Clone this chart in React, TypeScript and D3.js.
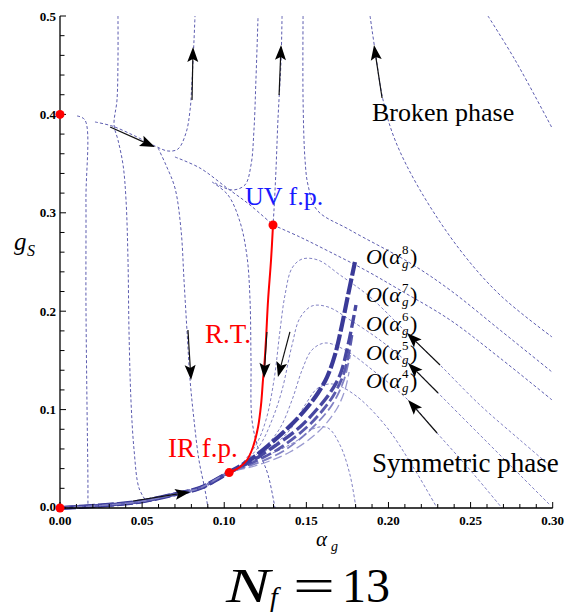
import React from 'react';
import * as d3 from 'd3';

type P = [number, number];

// ---------- ticks ----------
const xTicks = [0, 0.05, 0.1, 0.15, 0.2, 0.25, 0.3];
const xTickLabels = ['0.00', '0.05', '0.10', '0.15', '0.20', '0.25', '0.30'];
const yTicks = [0, 0.1, 0.2, 0.3, 0.4, 0.5];
const yTickLabels = ['0.0', '0.1', '0.2', '0.3', '0.4', '0.5'];

// ---------- fixed points ----------
const fixedPoints: P[] = [[0, 0], [0, 0.4], [0.103, 0.036], [0.1297, 0.2876]];

// ---------- RG flow trajectories (thin dotted) ----------
const flowA: P[] = [[0.0104, 0.3984], [0.0152, 0.3943], [0.0158, 0.313], [0.0158, 0.2114], [0.0164, 0.1098], [0.017, 0.0285], [0.017, 0]];
const flowT1: P[] = [[0.0213, 0.3923], [0.0317, 0.3882], [0.0457, 0.378], [0.0578, 0.3679], [0.0658, 0.3628], [0.0718, 0.3648], [0.0767, 0.3811], [0.0792, 0.4045], [0.0804, 0.435], [0.0816, 0.4756], [0.0822, 0.5]];
const flowB: P[] = [[0.0353, 0.5], [0.0353, 0.4553], [0.0347, 0.4146], [0.0329, 0.3892], [0.0353, 0.374], [0.0384, 0.3486], [0.0402, 0.313], [0.0414, 0.252], [0.042, 0.1809], [0.0432, 0.1098], [0.0451, 0.0589], [0.0481, 0.0203], [0.0524, 0.0071]];
const flowT2: P[] = [[0.0597, 0.3659], [0.0645, 0.3486], [0.07, 0.3252], [0.0737, 0.2825], [0.0755, 0.2317], [0.0773, 0.1809], [0.0792, 0.1301], [0.0816, 0.0894], [0.0846, 0.0488], [0.0883, 0.0183], [0.0901, 0]];
const flowT3: P[] = [[0.07, 0.3567], [0.0852, 0.3455], [0.1017, 0.3252], [0.1157, 0.3079], [0.1297, 0.2876]];
const flowDup: P[] = [[0.0944, 0.3303], [0.1047, 0.3232], [0.1126, 0.3283], [0.1163, 0.3486], [0.1181, 0.3841], [0.1193, 0.435], [0.1206, 0.5]];
const flowDdown: P[] = [[0.0926, 0.3313], [0.1023, 0.3181], [0.1096, 0.2907], [0.1139, 0.2551], [0.1157, 0.2114], [0.1163, 0.1504], [0.1169, 0.0894], [0.1206, 0.061], [0.1267, 0.0335], [0.1309, 0]];
const flowE: P[] = [[0.1352, 0.5], [0.1346, 0.4553], [0.1327, 0.3943], [0.1315, 0.3435], [0.1303, 0.3028], [0.1297, 0.2876]];
const flowF: P[] = [[0.148, 0.5], [0.148, 0.4146], [0.1492, 0.3537], [0.151, 0.3283], [0.1565, 0.3028], [0.1766, 0.2825], [0.2131, 0.249], [0.2375, 0.2215], [0.2679, 0.1809], [0.2996, 0.1382]];
const flowUV: P[] = [[0.1297, 0.2876], [0.1461, 0.2754], [0.1644, 0.2602], [0.1857, 0.2419], [0.207, 0.2215], [0.2375, 0.1911], [0.2679, 0.1524], [0.2996, 0.1098]];
const flowBP: P[] = [[0.1888, 0.5], [0.1918, 0.4654], [0.1967, 0.4146], [0.204, 0.374], [0.2192, 0.3232], [0.2436, 0.2622], [0.2679, 0.2165], [0.2996, 0.1738]];
const flowTR: P[] = [[0.2606, 0.5], [0.2771, 0.4553], [0.2996, 0.3862]];
const flowH1: P[] = [[0.1096, 0.0427], [0.1193, 0.064], [0.1254, 0.0894], [0.1303, 0.1301], [0.134, 0.1809], [0.137, 0.2165], [0.1413, 0.2439], [0.1474, 0.253], [0.1571, 0.252], [0.1705, 0.2368], [0.1888, 0.2144], [0.2113, 0.1778], [0.2314, 0.1453], [0.2557, 0.1047], [0.2801, 0.0691], [0.3, 0.0407]];
const flowH2: P[] = [[0.1108, 0.0437], [0.1218, 0.064], [0.1291, 0.0894], [0.1352, 0.1199], [0.1413, 0.1657], [0.1461, 0.1931], [0.1534, 0.2053], [0.1632, 0.2043], [0.1766, 0.1911], [0.1948, 0.1707], [0.2119, 0.1474], [0.2302, 0.1169], [0.2557, 0.0742], [0.2801, 0.0335], [0.2984, 0.003]];
const flowH3: P[] = [[0.112, 0.0447], [0.1248, 0.062], [0.134, 0.0813], [0.1413, 0.1098], [0.1474, 0.1402], [0.1534, 0.1606], [0.1614, 0.1677], [0.1735, 0.1606], [0.1918, 0.1382], [0.2119, 0.1098], [0.2296, 0.0762], [0.2497, 0.0386], [0.2691, 0]];
const flowH4: P[] = [[0.1133, 0.0457], [0.1279, 0.061], [0.14, 0.0793], [0.1492, 0.1047], [0.1571, 0.122], [0.1662, 0.126], [0.1796, 0.1148], [0.1979, 0.0843], [0.2143, 0.0437], [0.2296, 0]];
const flowH5: P[] = [[0.1145, 0.0467], [0.1309, 0.0569], [0.1449, 0.0691], [0.1553, 0.0813], [0.1632, 0.0813], [0.1705, 0.064], [0.1766, 0.0335], [0.1802, 0]];

const darkFlows = [flowA, flowT1, flowB, flowT2, flowT3, flowDup, flowDdown, flowE, flowF, flowUV, flowBP, flowTR];
const lightFlows = [flowH1, flowH2, flowH3, flowH4, flowH5];

// ---------- renormalized trajectory (red) ----------
const rtCurve: P[] = [[0.1297, 0.2876], [0.1285, 0.252], [0.1267, 0.2114], [0.1254, 0.1707], [0.1242, 0.1402], [0.1236, 0.1301], [0.1224, 0.1047], [0.1206, 0.0823], [0.1175, 0.062], [0.1139, 0.0488], [0.1096, 0.0417], [0.1053, 0.0376], [0.1023, 0.0356]];

// ---------- perturbative orders O(alpha_g^n) (thick dashed) ----------
const orderBase: P[] = [[0, 0], [0.0244, 0.0025], [0.0487, 0.0065], [0.0731, 0.0152], [0.0852, 0.0203], [0.1023, 0.0356]];
const order8: P[] = [[0.1157, 0.0488], [0.1279, 0.065], [0.1394, 0.0823], [0.1492, 0.0996], [0.1571, 0.1169], [0.1626, 0.1331], [0.1674, 0.1555], [0.1717, 0.186], [0.1754, 0.2165], [0.1796, 0.25]];
const order7: P[] = [[0.1157, 0.0467], [0.1291, 0.061], [0.1461, 0.0823], [0.1571, 0.1016], [0.1644, 0.1169], [0.1705, 0.1352], [0.1754, 0.1657], [0.1802, 0.2063]];
const order6: P[] = [[0.1169, 0.0457], [0.134, 0.061], [0.1504, 0.0823], [0.1601, 0.0996], [0.1674, 0.1169], [0.1735, 0.1402], [0.1778, 0.1758]];
const order5: P[] = [[0.1187, 0.0447], [0.137, 0.0589], [0.1541, 0.0823], [0.1656, 0.1047], [0.1729, 0.1301], [0.1766, 0.1555]];
const order4: P[] = [[0.1206, 0.0437], [0.14, 0.0569], [0.1571, 0.0772], [0.1681, 0.0996], [0.1735, 0.1199], [0.176, 0.1382]];
const orderNames = [8, 7, 6, 5, 4];
const orderLabelG = [0.2475, 0.2089, 0.1794, 0.1509, 0.1224];
const orderLabelA = 0.1863;

// ---------- flow arrows [tail, tip] ----------
const arrows: [P, P][] = [
  [[0.0305, 0.3872], [0.0578, 0.3669]],
  [[0.0804, 0.4146], [0.081, 0.4685]],
  [[0.1334, 0.4197], [0.1346, 0.4705]],
  [[0.1961, 0.4167], [0.1912, 0.4705]],
  [[0.0779, 0.1809], [0.0798, 0.1301]],
  [[0.126, 0.1789], [0.1242, 0.1321]],
  [[0.14, 0.1789], [0.1327, 0.1331]],
  [[0.0445, 0.0071], [0.0792, 0.0163]],
  [[0.2314, 0.1453], [0.2113, 0.1778]],
  [[0.2302, 0.1169], [0.2119, 0.1474]],
  [[0.2296, 0.0762], [0.2119, 0.1098]],
];

const SERIF = '"Liberation Serif", "Times New Roman", "DejaVu Serif", serif';

export default function App() {
  const W = 565, H = 615;
  const x = d3.scaleLinear().domain([0, 0.3]).range([60, 552.7]);
  const y = d3.scaleLinear().domain([0, 0.5]).range([508, 16]);
  const line = d3.line<P>().x(d => x(d[0])).y(d => y(d[1])).curve(d3.curveCatmullRom.alpha(0.5));

  const xMinor = d3.range(0, 0.3001, 0.01);
  const yMinor = d3.range(0, 0.5001, 0.02);

  const orderSets = [order8, order7, order6, order5, order4];
  const orderStyles = [
    { w: 4.2, dash: '16,3', c: '#3a3a98', o: 1 },
    { w: 3.4, dash: '13,4', c: '#3d3d9c', o: 0.95 },
    { w: 2.8, dash: '11,4', c: '#4848a4', o: 0.9 },
    { w: 1.8, dash: '10,4', c: '#6a6ab8', o: 0.85 },
    { w: 1.3, dash: '9,4', c: '#8a8ac8', o: 0.85 },
  ];

  const arrowEl = (a: [P, P], i: number) => {
    const [t, h] = a;
    const x1 = x(t[0]), y1 = y(t[1]), x2 = x(h[0]), y2 = y(h[1]);
    const dx = x2 - x1, dy = y2 - y1;
    const L = Math.hypot(dx, dy);
    const ux = dx / L, uy = dy / L;
    const hl = 15, hw = 5.5;
    const bx = x2 - ux * hl, by = y2 - uy * hl;
    const pts = `${x2},${y2} ${bx - uy * hw},${by + ux * hw} ${bx + ux * 3},${by + uy * 3} ${bx + uy * hw},${by - ux * hw}`;
    return (
      <g key={'ar' + i}>
        <line x1={x1} y1={y1} x2={bx + ux * 3} y2={by + uy * 3} stroke="#111" strokeWidth={1.2} />
        <polygon points={pts} fill="#000" />
      </g>
    );
  };

  const ts = (extra: React.CSSProperties = {}): React.CSSProperties => ({ fontFamily: SERIF, ...extra });

  return (
    <svg width={W} height={H} style={{ position: 'absolute', left: 0, top: 0, background: '#fff', fontFamily: SERIF }}>
      {/* flows */}
      {darkFlows.map((f, i) => (
        <path key={'df' + i} d={line(f) || ''} fill="none" stroke="#4a4aa6" strokeWidth={1} strokeDasharray="3,2.2" opacity={0.9} />
      ))}
      {lightFlows.map((f, i) => (
        <path key={'lf' + i} d={line(f) || ''} fill="none" stroke="#7474bd" strokeWidth={1} strokeDasharray="3,2.2" opacity={0.9} />
      ))}

      {/* perturbative orders */}
      {orderSets.map((o, i) => {
        const s = orderStyles[i];
        return (
          <path key={'o' + i} d={line([...orderBase, ...o]) || ''} fill="none" stroke={s.c} strokeWidth={s.w}
            strokeDasharray={s.dash} opacity={s.o} />
        );
      })}

      {/* R.T. */}
      <path d={line(rtCurve) || ''} fill="none" stroke="#f00" strokeWidth={2} />

      {/* arrows */}
      {arrows.map(arrowEl)}

      {/* axes */}
      <line x1={x(0)} x2={x(0.3)} y1={y(0)} y2={y(0)} stroke="#000" strokeWidth={1.3} />
      <line x1={x(0)} x2={x(0)} y1={y(0)} y2={y(0.5)} stroke="#000" strokeWidth={1.3} />
      {xMinor.map((v, i) => (
        <line key={'xm' + i} x1={x(v)} x2={x(v)} y1={y(0)} y2={y(0) - (i % 5 === 0 ? 6 : 4)} stroke="#000" strokeWidth={1} />
      ))}
      {yMinor.map((v, i) => (
        <line key={'ym' + i} x1={x(0)} x2={x(0) + (i % 5 === 0 ? 6 : 4.5)} y1={y(v)} y2={y(v)} stroke="#000" strokeWidth={1} />
      ))}
      {xTicks.map((v, i) => (
        <text key={'xt' + i} x={x(v)} y={525} textAnchor="middle" fontSize={13} fontWeight="bold" style={ts()}>{xTickLabels[i]}</text>
      ))}
      {yTicks.map((v, i) => (
        <text key={'yt' + i} x={56} y={y(v) + (i === 0 ? 2.5 : 4.5)} textAnchor="end" fontSize={13} fontWeight="bold" style={ts()}>{yTickLabels[i]}</text>
      ))}

      {/* fixed points */}
      {fixedPoints.map((p, i) => (
        <circle key={'fp' + i} cx={x(p[0])} cy={y(p[1])} r={4.5} fill="#f00" />
      ))}

      {/* annotations */}
      <text x={372} y={121} fontSize={26} style={ts()}>Broken phase</text>
      <text x={372} y={472} fontSize={27} style={ts()}>Symmetric phase</text>
      <text x={245} y={205} fontSize={26} fill="#1a1aff" style={ts()}>UV f.p.</text>
      <text x={205} y={343} fontSize={27} fill="#f00" style={ts()}>R.T.</text>
      <text x={168} y={457} fontSize={27} fill="#f00" style={ts()}>IR f.p.</text>

      {orderNames.map((n, i) => {
        const bx = x(orderLabelA), by = y(orderLabelG[i]);
        return (
          <g key={'ol' + i}>
            <text x={bx} y={by} fontSize={22} style={ts()}>
              <tspan fontStyle="italic">O</tspan><tspan>(</tspan><tspan fontStyle="italic">α</tspan>
            </text>
            <text x={bx + 36} y={by - 10} fontSize={13} style={ts()}>{n}</text>
            <text x={bx + 36} y={by + 4} fontSize={13} fontStyle="italic" style={ts()}>g</text>
            <text x={bx + 44} y={by} fontSize={22} style={ts()}>)</text>
          </g>
        );
      })}

      {/* axis labels */}
      <text x={14} y={250} fontSize={25} fontStyle="italic" style={ts()}>g</text>
      <text x={27} y={256} fontSize={16} fontStyle="italic" style={ts()}>S</text>
      <text x={316} y={546} fontSize={21} fontStyle="italic" style={ts()}>α</text>
      <text x={331} y={551} fontSize={14} fontStyle="italic" style={ts()}>g</text>

      {/* title */}
      <text x={226} y={602} fontSize={48} fontStyle="italic" textLength={44} lengthAdjust="spacingAndGlyphs" style={ts()}>N</text>
      <text x={270} y={606} fontSize={28} fontStyle="italic" style={ts()}>f</text>
      <text x={293} y={602} fontSize={48} textLength={42} lengthAdjust="spacingAndGlyphs" style={ts()}>=</text>
      <text x={342} y={602} fontSize={48} style={ts()}>13</text>
    </svg>
  );
}
